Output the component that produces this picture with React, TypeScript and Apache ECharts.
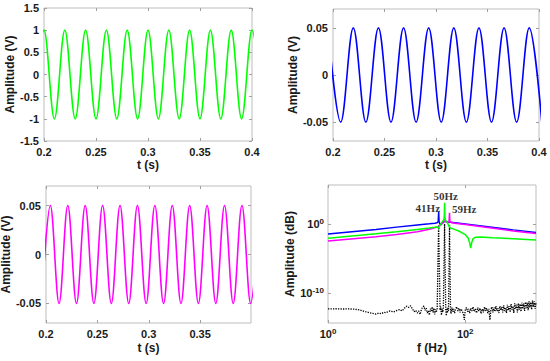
import React, { useEffect, useRef } from 'react';
import * as echarts from 'echarts';

// ---------- time-domain signals (extrema) ----------
const greenT = [0.19, 0.2, 0.21, 0.22, 0.23, 0.24, 0.25, 0.26, 0.27, 0.28, 0.29, 0.3, 0.31, 0.32, 0.33, 0.34, 0.35, 0.36, 0.37, 0.38, 0.39, 0.4, 0.41];
const greenV = [-1, 1, -1, 1, -1, 1, -1, 1, -1, 1, -1, 1, -1, 1, -1, 1, -1, 1, -1, 1, -1, 1, -1];

const blueT = [0.1953, 0.2075, 0.2197, 0.2319, 0.2441, 0.2563, 0.2685, 0.2807, 0.2929, 0.3051, 0.3173, 0.3295, 0.3417, 0.3539, 0.3661, 0.3783, 0.3905, 0.4027];
const blueV = [0.05, -0.05, 0.05, -0.05, 0.05, -0.05, 0.05, -0.05, 0.05, -0.05, 0.05, -0.05, 0.05, -0.05, 0.05, -0.05, 0.05, -0.05];

const magT = [0.19576, 0.20424, 0.21271, 0.22119, 0.22966, 0.23814, 0.24661, 0.25508, 0.26356, 0.27203, 0.28051, 0.28898, 0.29746, 0.30593, 0.31441, 0.32288, 0.33136, 0.33983, 0.34831, 0.35678, 0.36525, 0.37373, 0.3822, 0.39068, 0.39915, 0.40763];
const magV = [-0.05, 0.05, -0.05, 0.05, -0.05, 0.05, -0.05, 0.05, -0.05, 0.05, -0.05, 0.05, -0.05, 0.05, -0.05, 0.05, -0.05, 0.05, -0.05, 0.05, -0.05, 0.05, -0.05, 0.05, -0.05, 0.05];

const tTicks = [0.2, 0.25, 0.3, 0.35, 0.4];
const tTicks3 = [0.2, 0.25, 0.3, 0.35];
const y1Ticks = [-1.5, -1, -0.5, 0, 0.5, 1, 1.5];
const ySmallTicks = [-0.05, 0, 0.05];

// ---------- spectra: [frequency Hz, log10 amplitude] ----------
const specBlue = [[1, -1.41], [5, -0.75], [10, -0.42], [20, -0.1], [30, 0.07], [36, 0.15], [39, 0.22], [40.4, 0.4], [41, 1.83], [41.6, 0.35], [43, -0.05], [45, 0.05], [48, 0.3], [50, 0.42], [53, 0.35], [56, 0.33], [62, 0.3], [100, 0.05], [200, -0.33], [500, -0.82], [1075, -1.21]];
const specGreen = [[1, -2.03], [5, -1.4], [10, -1.1], [20, -0.75], [30, -0.55], [36, -0.45], [39, -0.4], [40.5, -0.5], [41, -0.62], [41.6, -0.42], [43, -0.1], [45, 0.2], [47, 0.45], [48.6, 0.62], [49.5, 1.1], [50, 3.13], [50.5, 1.1], [51.4, 0.62], [53, 0.45], [55, 0.2], [57, -0.1], [59, -0.42], [61, -0.55], [70, -0.75], [85, -1.1], [100, -1.5], [110, -2.0], [116, -2.7], [120, -3.48], [124, -2.7], [130, -2.1], [140, -1.9], [170, -1.85], [250, -1.95], [500, -2.1], [1075, -2.28]];
const specMag = [[1, -2.42], [5, -1.82], [10, -1.5], [20, -1.08], [30, -0.72], [36, -0.5], [40, -0.35], [44, -0.12], [47, 0.2], [50, 0.45], [53, 0.35], [56, 0.3], [58.2, 0.45], [59, 1.67], [59.8, 0.45], [62, 0.25], [70, 0.15], [100, -0.05], [200, -0.45], [500, -0.98], [1075, -1.36]];
const specNoise = [
  [1, -12.3], [1.3, -12.28], [1.6, -12.32], [2, -12.3], [2.5, -12.35], [3, -12.5], [3.5, -12.7], [4, -12.85], [4.5, -12.95], [5, -13.05],
  [5.5, -12.9], [6, -13.0], [6.5, -12.8], [7, -12.85], [7.5, -12.7], [8, -12.6], [9, -12.75], [10, -12.55], [11, -12.4], [12, -12.6],
  [13, -12.2], [14, -11.9], [15, -12.1], [16, -11.85], [17, -12.3], [18, -12.7], [19, -12.5], [20, -12.9], [21, -12.6], [22, -13.1],
  [23, -12.4], [24, -12.0], [25, -11.9], [26, -12.5], [27, -12.2], [28, -12.9], [29, -12.6], [30, -13.2], [31, -12.3], [32, -12.6],
  [33, -12.0], [34, -12.8], [35, -12.2], [36, -13.1], [37, -12.4], [38, -12.7], [39, -12.3], [41, -0.1], [43, -12.5], [44, -12.0],
  [45, -13.2], [46, -12.3], [47, -12.8], [48, -12.2], [50, 0.05], [52, -12.4], [53, -13.3], [54, -12.2], [55, -12.9], [56, -12.1],
  [57, -12.6], [59, -0.15], [61, -12.3], [62, -13.0], [64, -12.1], [66, -12.7], [68, -12.3], [70, -12.9], [72, -12.4], [75, -12.0],
  [78, -12.6], [81, -12.2], [84, -12.8], [87, -12.3], [90, -12.6], [94, -13.0], [97, -13.9], [100, -12.5], [104, -12.1], [108, -12.7],
  [112, -12.3], [116, -12.9], [120, -12.2], [125, -12.6], [130, -12.0], [135, -12.7], [140, -12.3], [146, -12.9], [152, -12.1], [158, -12.6],
  [164, -12.2], [170, -13.0], [177, -12.3], [184, -12.8], [191, -12.0], [198, -12.6], [205, -12.2], [213, -12.9], [221, -12.3], [229, -13.9],
  [237, -12.4], [245, -12.0], [253, -12.8], [262, -12.1], [271, -12.7], [280, -11.9], [290, -12.6], [300, -12.2], [310, -12.9], [320, -11.9],
  [330, -12.5], [341, -12.0], [352, -12.8], [363, -11.8], [375, -12.6], [387, -12.1], [399, -12.9], [412, -11.7], [425, -12.5], [438, -11.9],
  [452, -12.8], [466, -11.6], [480, -12.4], [495, -11.9], [510, -12.9], [526, -11.5], [542, -12.3], [559, -11.7], [576, -12.8], [594, -11.5],
  [612, -12.4], [631, -11.6], [650, -12.7], [670, -11.4], [690, -12.3], [711, -11.5], [733, -12.6], [755, -11.3], [778, -12.2], [801, -11.4],
  [825, -12.5], [850, -11.2], [876, -12.1], [902, -11.3], [929, -12.4], [957, -11.1], [986, -12.0], [1016, -11.2], [1046, -12.3], [1075, -11.4]
];
const fTicks = [0, 2];
const aTicks = [-10, 0];

const annoLabels = ['41Hz', '50Hz', '59Hz'];
const annoFreq = [28.5, 52, 96.6];
const annoLevel = [2.36, 4.1, 2.22];

const F = '"Liberation Sans", Arial, Helvetica, sans-serif';
const TXT = '#1a1a1a';
const BOX = '#bdbdbd';
const TICK = '#a0a0a0';

const nameStyle = { fontFamily: F, fontWeight: 'bold', fontSize: 12, color: TXT };
const labelStyle = { fontFamily: F, fontWeight: 'bold', fontSize: 11, color: TXT };

function numFmt(v: number) {
  return String(+Number(v).toFixed(4));
}

const supRich = {
  b: { fontFamily: F, fontWeight: 'bold', fontSize: 11, color: TXT, lineHeight: 14 },
  s: { fontFamily: F, fontWeight: 'bold', fontSize: 8, color: TXT, lineHeight: 8, verticalAlign: 'top' },
};
function supFmt(v: number) {
  return `{b|10}{s|${Math.round(v)}}`;
}

const hiddenLine = { show: false, onZero: false };

function mainX(grid: number, min: number, max: number, ticks: number[], name: string, gap: number, log = false) {
  return {
    type: 'value', gridIndex: grid, min, max, position: 'bottom',
    name, nameLocation: 'middle', nameGap: gap, nameTextStyle: nameStyle,
    axisLine: hiddenLine, splitLine: { show: false },
    axisTick: { show: true, inside: true, length: 3, lineStyle: { color: TICK }, customValues: ticks },
    axisLabel: log
      ? { customValues: ticks, margin: 4, formatter: supFmt, rich: supRich }
      : { customValues: ticks, margin: 5, ...labelStyle, formatter: numFmt },
  };
}
function mainY(grid: number, min: number, max: number, ticks: number[], name: string, gap: number, log = false) {
  return {
    type: 'value', gridIndex: grid, min, max, position: 'left',
    name, nameLocation: 'middle', nameGap: gap, nameTextStyle: nameStyle,
    axisLine: hiddenLine, splitLine: { show: false },
    axisTick: { show: true, inside: true, length: 3, lineStyle: { color: TICK }, customValues: ticks },
    axisLabel: log
      ? { customValues: ticks, margin: 4, formatter: supFmt, rich: supRich }
      : { customValues: ticks, margin: 5, ...labelStyle, formatter: numFmt },
  };
}
function mirror(grid: number, min: number, max: number, ticks: number[], pos: string) {
  return {
    type: 'value', gridIndex: grid, min, max, position: pos,
    axisLine: hiddenLine, splitLine: { show: false }, axisLabel: { show: false },
    axisTick: { show: true, inside: true, length: 3, lineStyle: { color: TICK }, customValues: ticks },
  };
}

const LOGF_MAX = Math.log10(1075);

export default function App() {
  const ref = useRef<HTMLDivElement>(null);
  useEffect(() => {
    if (!ref.current) return;
    const chart = echarts.init(ref.current, undefined, { renderer: 'svg' });
    const grids = [
      { left: 44, top: 8, width: 208, height: 133 },
      { left: 333, top: 9, width: 206, height: 132 },
      { left: 46, top: 186, width: 205, height: 137 },
      { left: 328, top: 185, width: 208, height: 138 },
    ].map((g) => ({ ...g, show: true, borderColor: BOX, borderWidth: 1, backgroundColor: 'transparent', containLabel: false, outerBoundsMode: 'none' }));

    const option: any = {
      animation: false,
      backgroundColor: '#ffffff',
      grid: grids,
      xAxis: [
        mainX(0, 0.2, 0.4, tTicks, 't (s)', 18),
        mainX(1, 0.2, 0.4, tTicks, 't (s)', 18),
        mainX(2, 0.2, 0.3995, tTicks3, 't (s)', 19),
        mainX(3, 0, LOGF_MAX, fTicks, 'f (Hz)', 19, true),
        mirror(0, 0.2, 0.4, tTicks, 'top'),
        mirror(1, 0.2, 0.4, tTicks, 'top'),
        mirror(2, 0.2, 0.3995, tTicks3, 'top'),
        mirror(3, 0, LOGF_MAX, fTicks, 'top'),
      ],
      yAxis: [
        mainY(0, -1.5, 1.5, y1Ticks, 'Amplitude (V)', 16),
        mainY(1, -0.07, 0.07, ySmallTicks, 'Amplitude (V)', 21),
        mainY(2, -0.07, 0.07, ySmallTicks, 'Amplitude (V)', 29),
        mainY(3, -14.35, 5.7, aTicks, 'Amplitude (dB)', 31, true),
        mirror(0, -1.5, 1.5, y1Ticks, 'right'),
        mirror(1, -0.07, 0.07, ySmallTicks, 'right'),
        mirror(2, -0.07, 0.07, ySmallTicks, 'right'),
        mirror(3, -14.35, 5.7, aTicks, 'right'),
      ],
      series: [
        {
          type: 'line', xAxisIndex: 0, yAxisIndex: 0, symbol: 'none', smooth: 0.364, clip: true,
          data: greenT.map((t, i) => [t, greenV[i]]),
          lineStyle: { color: '#00ff00', width: 1.6 },
        },
        {
          type: 'line', xAxisIndex: 1, yAxisIndex: 1, symbol: 'none', smooth: 0.364, clip: true,
          data: blueT.map((t, i) => [t, blueV[i]]),
          lineStyle: { color: '#0000ff', width: 1.6 },
        },
        {
          type: 'line', xAxisIndex: 2, yAxisIndex: 2, symbol: 'none', smooth: 0.364, clip: true,
          data: magT.map((t, i) => [t, magV[i]]),
          lineStyle: { color: '#ff00ff', width: 1.6 },
        },
        {
          type: 'line', xAxisIndex: 3, yAxisIndex: 3, symbol: 'none', clip: true,
          data: specNoise.map(([f, a]) => [Math.log10(f), a]),
          lineStyle: { color: '#000000', width: 1.3, type: [1.3, 1.2] },
        },
        {
          type: 'line', xAxisIndex: 3, yAxisIndex: 3, symbol: 'none', clip: true,
          data: specBlue.map(([f, a]) => [Math.log10(f), a]),
          lineStyle: { color: '#0000ff', width: 1.5 },
        },
        {
          type: 'line', xAxisIndex: 3, yAxisIndex: 3, symbol: 'none', clip: true,
          data: specMag.map(([f, a]) => [Math.log10(f), a]),
          lineStyle: { color: '#ff00ff', width: 1.5 },
        },
        {
          type: 'line', xAxisIndex: 3, yAxisIndex: 3, symbol: 'none', clip: true,
          data: specGreen.map(([f, a]) => [Math.log10(f), a]),
          lineStyle: { color: '#00ff00', width: 1.5 },
        },
        {
          type: 'scatter', xAxisIndex: 3, yAxisIndex: 3, symbol: 'circle', symbolSize: 1,
          itemStyle: { color: 'rgba(0,0,0,0)' },
          data: annoLabels.map((s, i) => [Math.log10(annoFreq[i]), annoLevel[i], s]),
          label: {
            show: true, position: 'inside', formatter: (p: any) => p.value[2],
            fontFamily: '"Liberation Serif", "Times New Roman", serif', fontWeight: 'bold', fontSize: 11, color: '#000',
          },
          z: 5,
        },
      ],
    };
    chart.setOption(option);
    return () => chart.dispose();
  }, []);
  return <div ref={ref} style={{ position: 'absolute', left: 0, top: 0, width: 550, height: 361, background: '#fff' }} />;
}
